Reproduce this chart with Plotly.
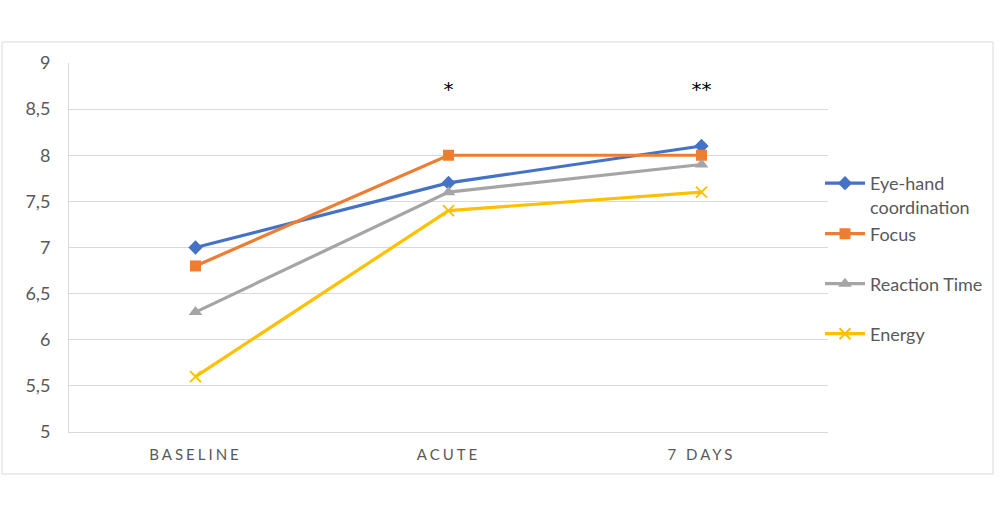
import plotly.graph_objects as go

categories = ["BASELINE", "ACUTE", "7 DAYS"]
eye_hand = [7.0, 7.7, 8.1]
focus = [6.8, 8.0, 8.0]
reaction = [6.3, 7.6, 7.9]
energy = [5.6, 7.4, 7.6]
series_names = ["Eye-hand<br>coordination", "Focus", "Reaction Time", "Energy"]
sig_labels = ["", "*", "**"]
sig_y = [8.7, 8.7, 8.7]

FONT = "Lato, 'Open Sans', sans-serif"

L, R, T, B = 69, 172, 63, 89
W, H = 1000, 521
pw, ph = W - L - R, H - T - B

def px(x):
    return (x - L) / pw

def py(y):
    return (H - B - y) / ph

fig = go.Figure()
specs = [
    (eye_hand, "#4472C4", "diamond", 11),
    (focus, "#ED7D31", "square", 11),
    (reaction, "#A5A5A5", "triangle-up", 12),
    (energy, "#FFC000", "x-thin", 11),
]
legend_ids = ["legend", "legend2", "legend3", "legend4"]
for i, (vals, col, sym, sz) in enumerate(specs):
    marker = dict(symbol=sym, size=sz, color=col)
    if sym == "x-thin":
        marker["line"] = dict(color=col, width=2)
    fig.add_trace(go.Scatter(
        x=categories, y=vals, mode="lines+markers", name=series_names[i],
        line=dict(color=col, width=3.2), marker=marker, legend=legend_ids[i],
    ))

fig.add_trace(go.Scatter(
    x=categories, y=sig_y, mode="text", text=sig_labels, showlegend=False,
    textfont=dict(size=20, color="#000000", family="DejaVu Sans"), hoverinfo="skip",
))

fig.add_shape(type="rect", xref="paper", yref="paper",
              x0=px(2), x1=px(993), y0=py(474), y1=py(42),
              line=dict(color="#D9D9D9", width=1), layer="below")

leg_font = dict(size=18, color="#595959", family=FONT)
leg_common = dict(x=px(820), xanchor="left", yanchor="middle", font=leg_font,
                  valign="top", bgcolor="rgba(0,0,0,0)", itemwidth=40)
leg_y = [195, 234, 284, 334]

fig.update_layout(
    width=W, height=H,
    margin=dict(l=L, r=R, t=T, b=B),
    paper_bgcolor="white", plot_bgcolor="white",
    font=dict(family=FONT, color="#595959", size=16),
    xaxis=dict(
        type="category", range=[-0.5, 2.5], showgrid=False,
        showline=True, linecolor="#D9D9D9", linewidth=1,
        ticks="", tickfont=dict(size=15, color="#595959"),
        ticklabelstandoff=9, fixedrange=True,
    ),
    yaxis=dict(
        range=[5, 9],
        tickvals=[5, 5.5, 6, 6.5, 7, 7.5, 8, 8.5, 9],
        ticktext=["5", "5,5", "6", "6,5", "7", "7,5", "8", "8,5", "9"],
        showgrid=True, gridcolor="#D9D9D9", gridwidth=1,
        showline=True, linecolor="#D9D9D9", linewidth=1,
        zeroline=False, ticks="", ticklabelstandoff=14,
        tickfont=dict(size=18, color="#595959"),
    ),
    legend=dict(y=py(leg_y[0]), **leg_common),
    legend2=dict(y=py(leg_y[1]), **leg_common),
    legend3=dict(y=py(leg_y[2]), **leg_common),
    legend4=dict(y=py(leg_y[3]), **leg_common),
    showlegend=True,
)

post = """
var gd = document.getElementsByClassName('plotly-graph-div')[0];
function spaceTicks(){
  gd.querySelectorAll('.xtick text').forEach(function(t){
    t.style.letterSpacing = '3px';
  });
}
spaceTicks();
gd.on('plotly_afterplot', spaceTicks);
"""

fig.write_html("out.html", post_script=post)
